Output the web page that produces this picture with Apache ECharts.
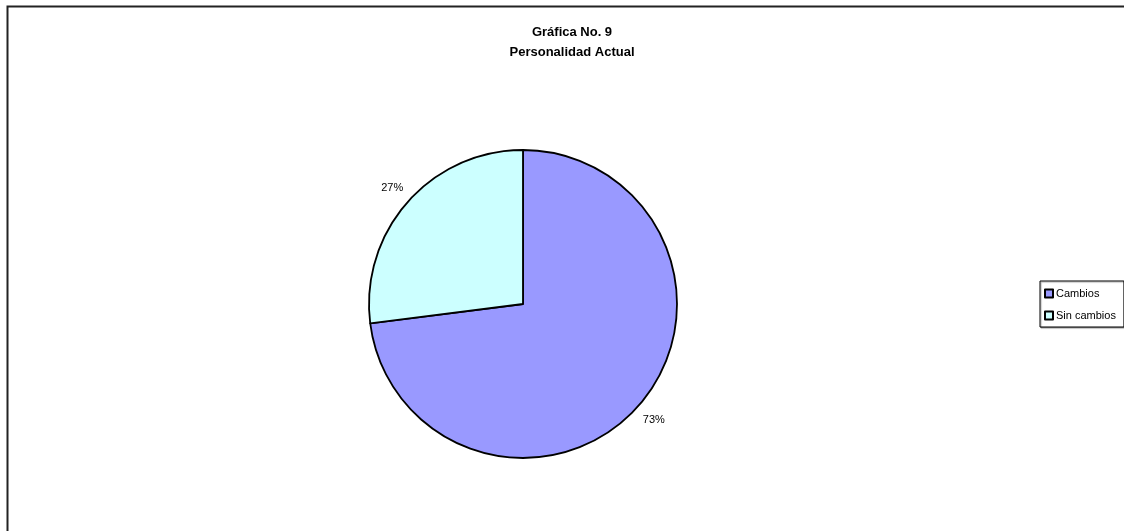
<!DOCTYPE html>
<html>
<head>
<meta charset="utf-8">
<title>Gráfica No. 9 - Personalidad Actual</title>
<script src="https://cdn.jsdelivr.net/npm/echarts@6/dist/echarts.min.js"></script>
<style>
  html, body { margin: 0; padding: 0; background: #fff; }
  #chart { width: 1124px; height: 531px; }
</style>
</head>
<body>
<div id="chart"></div>
<script>
// Categories and their shares (percent)
const categories = ['Cambios', 'Sin cambios'];
const values = [73, 27];
const sliceColors = ['#9999FF', '#CCFFFF'];
const titleLines = ['Gráfica No. 9', 'Personalidad Actual'];

const FONT = 'Arial, "Liberation Sans", Helvetica, sans-serif';

const chart = echarts.init(document.getElementById('chart'), null, { renderer: 'canvas' });

chart.setOption({
  backgroundColor: '#ffffff',
  animation: false,
  title: [
    {
      text: titleLines[0],
      left: 572, top: 26, textAlign: 'center', padding: 0,
      textStyle: { fontFamily: FONT, fontSize: 13, fontWeight: 'bold', color: '#000' }
    },
    {
      text: titleLines[1],
      left: 572, top: 46, textAlign: 'center', padding: 0,
      textStyle: { fontFamily: FONT, fontSize: 13, fontWeight: 'bold', color: '#000' }
    }
  ],
  legend: {
    orient: 'vertical',
    left: 1040, top: 281,
    padding: [7, 8, 6, 4],
    itemWidth: 8, itemHeight: 8, itemGap: 11,
    icon: 'rect',
    borderColor: '#000', borderWidth: 1,
    backgroundColor: '#fff',
    shadowColor: 'rgba(0,0,0,0.35)', shadowOffsetX: 1, shadowOffsetY: 1, shadowBlur: 1,
    itemStyle: { borderColor: '#000', borderWidth: 2 },
    textStyle: { fontFamily: FONT, fontSize: 11, color: '#000', padding: [0, 0, 0, -2] },
    data: categories
  },
  graphic: [
    {
      type: 'rect', silent: true, z: -1,
      shape: { x: 7.5, y: 6.5, width: 1140, height: 560 },
      style: { fill: 'none', stroke: '#222', lineWidth: 2 }
    }
  ],
  series: [
    {
      type: 'pie',
      center: [523, 304],
      radius: 154,
      startAngle: 90,
      clockwise: true,
      avoidLabelOverlap: false,
      color: sliceColors,
      itemStyle: { borderColor: '#000', borderWidth: 1.8 },
      label: {
        show: true,
        position: 'outside',
        formatter: '{c}%',
        distanceToLabelLine: -11.5,
        fontFamily: FONT, fontSize: 11, color: '#000'
      },
      labelLine: { show: false, length: 21, length2: 0 },
      emphasis: { disabled: true },
      data: categories.map((name, i) => ({ name, value: values[i] }))
    }
  ]
});
</script>
</body>
</html>
